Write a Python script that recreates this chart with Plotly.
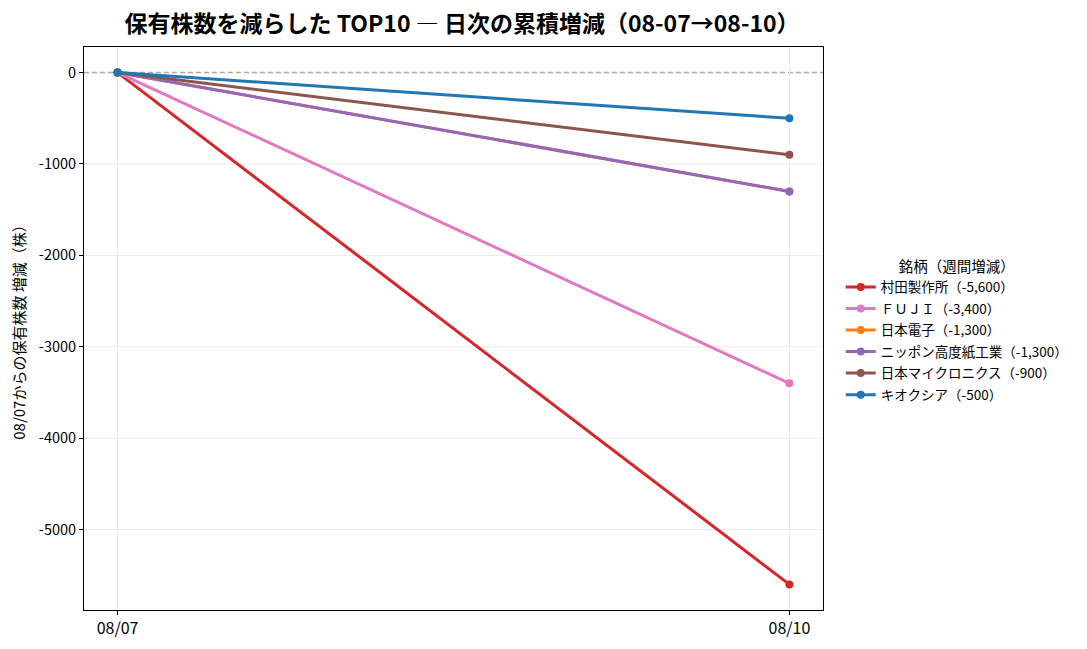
import plotly.graph_objects as go

# dates and cumulative change since 08/07
dates = ['08/07', '08/10']
names = ['村田製作所', 'ＦＵＪＩ', '日本電子', 'ニッポン高度紙工業', '日本マイクロニクス', 'キオクシア']
changes = [-5600, -3400, -1300, -1300, -900, -500]
colors = ['#d62728', '#e377c2', '#ff7f0e', '#9467bd', '#8c564b', '#1f77b4']
y_ticks = [0, -1000, -2000, -3000, -4000, -5000]
y_ticktext = ['0', '-1000', '-2000', '-3000', '-4000', '-5000']

font_jp = 'Noto Sans CJK JP'
grid_col = '#ebebeb'

fig = go.Figure()

# horizontal grid drawn as shapes so the zero line can be dashed on top
for yv in y_ticks[1:]:
    fig.add_hline(y=yv, line=dict(color=grid_col, width=1), layer='below')
fig.add_hline(y=0, line=dict(color='#aaaaaa', width=1.5, dash='5px,3px'), layer='below')

for name, chg, col in zip(names, changes, colors):
    fig.add_trace(go.Scatter(
        x=dates, y=[0, chg], mode='lines+markers',
        name=f'{name}（{chg:,}）', legendgroup=name,
        line=dict(color=col, width=3),
        marker=dict(color=col, size=8),
    ))

# note: page body has 8px margin, so margins are offset by 8
fig.update_layout(
    width=1087, height=649,
    plot_bgcolor='white', paper_bgcolor='white',
    font=dict(family=font_jp, size=14, color='black'),
    title=dict(text='<b>保有株数を減らした TOP10 ― 日次の累積増減（08-07→08-10）</b>',
               x=454 / 1087, xanchor='center', y=1 - 16 / 649, yanchor='middle',
               font=dict(size=23, family=font_jp)),
    margin=dict(l=76, r=272, t=39, b=47, autoexpand=False),
    legend=dict(
        title=dict(text='銘柄（週間増減）', side='top center', font=dict(size=14.5)),
        x=1.024, xanchor='left', y=0.6345, yanchor='top',
        font=dict(size=13.5), tracegroupgap=1,
    ),
)

fig.update_xaxes(
    type='category', range=[-0.05, 1.05],
    showline=True, linecolor='black', linewidth=1, mirror=True,
    ticks='outside', ticklen=4, tickcolor='black',
    showgrid=True, gridcolor=grid_col, gridwidth=1,
    zeroline=False, tickfont=dict(size=16),
)
fig.update_yaxes(
    range=[-5880, 280], tickvals=y_ticks, ticktext=y_ticktext,
    showline=True, linecolor='black', linewidth=1, mirror=True,
    ticks='outside', ticklen=4, tickcolor='black',
    showgrid=False,
    zeroline=False, tickfont=dict(size=14.5),
    title=dict(text='08/07からの保有株数 増減（株）', font=dict(size=15), standoff=10),
)

fig.write_html('out.html')
